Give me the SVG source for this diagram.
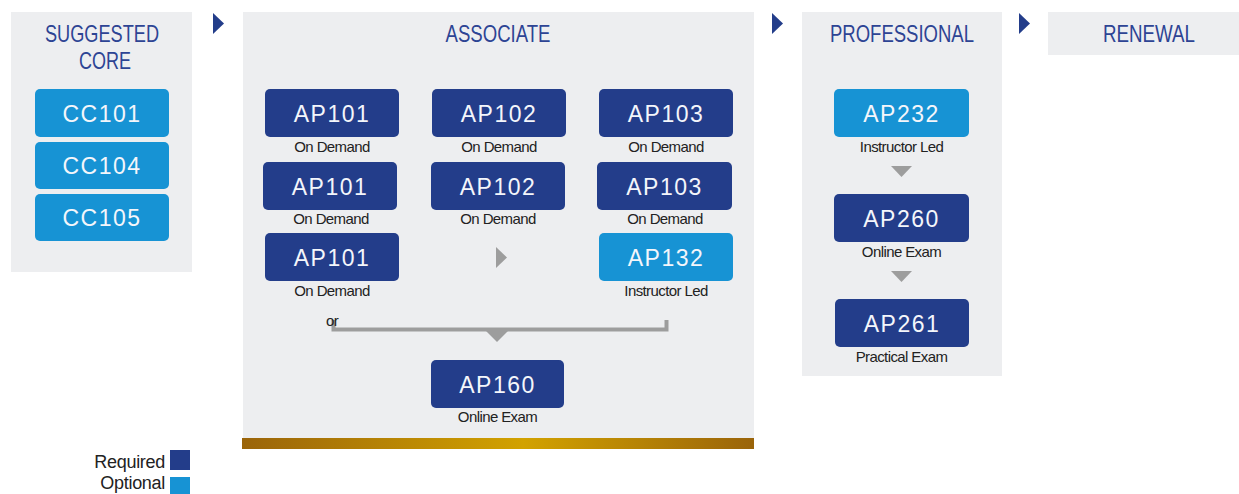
<svg xmlns="http://www.w3.org/2000/svg" width="1239" height="494" viewBox="0 0 1239 494">
<defs>
<linearGradient id="gold" x1="0" y1="0" x2="1" y2="0">
<stop offset="0" stop-color="#9a640a"/>
<stop offset="0.55" stop-color="#d2a200"/>
<stop offset="1" stop-color="#9a640a"/>
</linearGradient>
<style>
.panel{fill:#edeef0}
.title{font-family:"Liberation Sans",Arial,sans-serif;font-size:24px;fill:#2d4494;text-anchor:middle}
.req{fill:#233d8a}
.opt{fill:#1793d4}
.code{font-family:"Liberation Sans",Arial,sans-serif;font-size:23px;fill:#f4f6fb;text-anchor:middle;letter-spacing:1.5px}
.lbl{font-family:"Liberation Sans",Arial,sans-serif;font-size:15px;fill:#222;text-anchor:middle;letter-spacing:-0.6px}
.leg{font-family:"Liberation Sans",Arial,sans-serif;font-size:18px;fill:#222;text-anchor:end;letter-spacing:-0.3px}
.stage{fill:#233d8a}
.garr{fill:#9d9d9d}
</style>
</defs>
<rect width="1239" height="494" fill="#ffffff"/>

<g id="panels">
<rect class="panel" x="11" y="12" width="181" height="260"/>
<rect class="panel" x="243" y="12" width="511" height="426"/>
<rect x="242" y="438" width="512" height="11" fill="url(#gold)"/>
<rect class="panel" x="802" y="12" width="200" height="364"/>
<rect class="panel" x="1048" y="12" width="191" height="43"/>
</g>

<g id="titles">
<text class="title" x="102" y="42" textLength="114" lengthAdjust="spacingAndGlyphs">SUGGESTED</text>
<text class="title" x="105" y="69" textLength="52" lengthAdjust="spacingAndGlyphs">CORE</text>
<text class="title" x="498" y="42" textLength="105" lengthAdjust="spacingAndGlyphs">ASSOCIATE</text>
<text class="title" x="902" y="42" textLength="144" lengthAdjust="spacingAndGlyphs">PROFESSIONAL</text>
<text class="title" x="1149" y="42" textLength="92" lengthAdjust="spacingAndGlyphs">RENEWAL</text>
</g>

<g id="connectors">
<polygon class="stage" points="213,13 224,23.5 213,34"/>
<polygon class="stage" points="772,13 783,23.5 772,34"/>
<polygon class="stage" points="1019,13 1030,23.5 1019,34"/>
<polygon class="garr" points="496,247 507,257.5 496,268"/>
<path d="M333.5,320 V329.5 H666.5 V320" fill="none" stroke="#9d9d9d" stroke-width="4"/>
<polygon class="garr" points="486,331 508,331 497,342"/>
<polygon class="garr" points="891,166 912,166 901.5,177"/>
<polygon class="garr" points="891,271 912,271 901.5,282"/>
<text x="326" y="326" font-family="'Liberation Sans',Arial,sans-serif" font-size="15" fill="#222" letter-spacing="-0.6">or</text>
</g>

<g id="cc101"><rect class="opt" x="35" y="89" width="134" height="48" rx="5"/><text class="code" x="102" y="122">CC101</text></g>
<g id="cc104"><rect class="opt" x="35" y="142" width="134" height="47" rx="5"/><text class="code" x="102" y="174">CC104</text></g>
<g id="cc105"><rect class="opt" x="35" y="194" width="134" height="47" rx="5"/><text class="code" x="102" y="226">CC105</text></g>

<g id="ap101a"><rect class="req" x="265" y="89" width="134" height="48" rx="5"/><text class="code" x="332" y="122">AP101</text><text class="lbl" x="332" y="152">On Demand</text></g>
<g id="ap102a"><rect class="req" x="432" y="89" width="134" height="48" rx="5"/><text class="code" x="499" y="122">AP102</text><text class="lbl" x="499" y="152">On Demand</text></g>
<g id="ap103a"><rect class="req" x="599" y="89" width="134" height="48" rx="5"/><text class="code" x="666" y="122">AP103</text><text class="lbl" x="666" y="152">On Demand</text></g>

<g id="ap101b"><rect class="req" x="263" y="162" width="134" height="48" rx="5"/><text class="code" x="330" y="195">AP101</text><text class="lbl" x="331" y="224">On Demand</text></g>
<g id="ap102b"><rect class="req" x="431" y="162" width="134" height="48" rx="5"/><text class="code" x="498" y="195">AP102</text><text class="lbl" x="498" y="224">On Demand</text></g>
<g id="ap103b"><rect class="req" x="597" y="162" width="135" height="48" rx="5"/><text class="code" x="664.5" y="195">AP103</text><text class="lbl" x="665" y="224">On Demand</text></g>

<g id="ap101c"><rect class="req" x="265" y="233" width="134" height="48" rx="5"/><text class="code" x="332" y="266">AP101</text><text class="lbl" x="332" y="296">On Demand</text></g>
<g id="ap132"><rect class="opt" x="599" y="233" width="134" height="48" rx="5"/><text class="code" x="666" y="266">AP132</text><text class="lbl" x="666" y="296">Instructor Led</text></g>

<g id="ap160"><rect class="req" x="431" y="360" width="133" height="48" rx="5"/><text class="code" x="497.5" y="393">AP160</text><text class="lbl" x="497.5" y="422">Online Exam</text></g>

<g id="ap232"><rect class="opt" x="834" y="89" width="135" height="48" rx="5"/><text class="code" x="901.5" y="122">AP232</text><text class="lbl" x="901.5" y="152">Instructor Led</text></g>
<g id="ap260"><rect class="req" x="834" y="194" width="135" height="48" rx="5"/><text class="code" x="901.5" y="227">AP260</text><text class="lbl" x="901.5" y="257">Online Exam</text></g>
<g id="ap261"><rect class="req" x="835" y="299" width="134" height="48" rx="5"/><text class="code" x="902" y="332">AP261</text><text class="lbl" x="901.5" y="362">Practical Exam</text></g>

<g id="legend">
<text class="leg" x="165" y="468">Required</text>
<rect class="req" x="170" y="450" width="20" height="20"/>
<text class="leg" x="165" y="489">Optional</text>
<rect class="opt" x="170" y="477" width="20" height="20"/>
</g>
</svg>
